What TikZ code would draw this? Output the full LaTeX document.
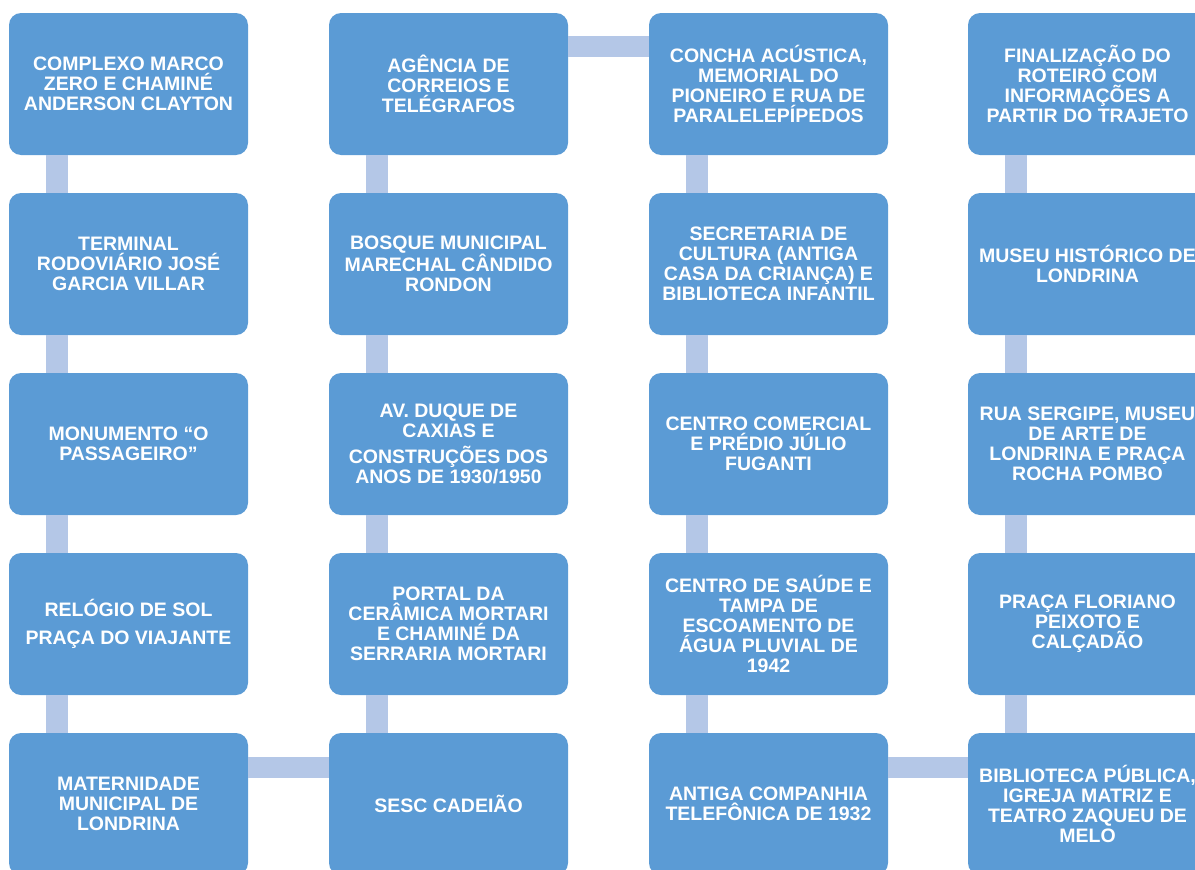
\documentclass[tikz,border=0pt]{standalone}
\usepackage{fontspec}
\setmainfont{Liberation Sans}
\usetikzlibrary{calc}
\definecolor{boxblue}{HTML}{5B9BD5}
\definecolor{barblue}{HTML}{B4C7E7}
\tikzset{
  stop/.style={fill=boxblue, draw=none, rounded corners=12pt, minimum width=239pt, minimum height=142pt,
    inner sep=0pt, align=center, text=white, font=\bfseries\fontsize{19.5}{20}\selectfont},
  bar/.style={fill=barblue, draw=none}
}
\begin{document}
\begin{tikzpicture}[x=1pt,y=-1pt]
\useasboundingbox (0,0) rectangle (1195,870);
\clip (0,0) rectangle (1195,870);
% column 1
\node[stop] (a1) at (128.5,84) {COMPLEXO MARCO\\ZERO E CHAMINÉ\\ANDERSON CLAYTON};
\node[stop] (a2) at (128.5,264) {TERMINAL\\RODOVIÁRIO JOSÉ\\GARCIA VILLAR};
\node[stop] (a3) at (128.5,444) {MONUMENTO “O\\PASSAGEIRO”};
\node[stop] (a4) at (128.5,624) {RELÓGIO DE SOL\\[8pt]PRAÇA DO VIAJANTE};
\node[stop] (a5) at (128.5,804) {MATERNIDADE\\MUNICIPAL DE\\LONDRINA};
% column 2
\node[stop] (b1) at (448.5,84) {AGÊNCIA DE\\CORREIOS E\\TELÉGRAFOS};
\node[stop] (b2) at (448.5,264) {BOSQUE MUNICIPAL\\MARECHAL CÂNDIDO\\RONDON};
\node[stop] (b3) at (448.5,444) {AV. DUQUE DE\\CAXIAS E\\[6pt]CONSTRUÇÕES DOS\\ANOS DE 1930/1950};
\node[stop] (b4) at (448.5,624) {PORTAL DA\\CERÂMICA MORTARI\\E CHAMINÉ DA\\SERRARIA MORTARI};
\node[stop] (b5) at (448.5,804) {SESC CADEIÃO};
% column 3
\node[stop] (c1) at (768.5,84) {CONCHA ACÚSTICA,\\MEMORIAL DO\\PIONEIRO E RUA DE\\PARALELEPÍPEDOS};
\node[stop] (c2) at (768.5,264) {SECRETARIA DE\\CULTURA (ANTIGA\\CASA DA CRIANÇA) E\\BIBLIOTECA INFANTIL};
\node[stop] (c3) at (768.5,444) {CENTRO COMERCIAL\\E PRÉDIO JÚLIO\\FUGANTI};
\node[stop] (c4) at (768.5,624) {CENTRO DE SAÚDE E\\TAMPA DE\\ESCOAMENTO DE\\ÁGUA PLUVIAL DE\\1942};
\node[stop] (c5) at (768.5,804) {ANTIGA COMPANHIA\\TELEFÔNICA DE 1932};
% column 4
\node[stop] (d1) at (1087.5,84) {FINALIZAÇÃO DO\\ROTEIRO COM\\INFORMAÇÕES A\\PARTIR DO TRAJETO};
\node[stop] (d2) at (1087.5,264) {MUSEU HISTÓRICO DE\\LONDRINA};
\node[stop] (d3) at (1087.5,444) {RUA SERGIPE,  MUSEU\\DE ARTE DE\\LONDRINA E PRAÇA\\ROCHA POMBO};
\node[stop] (d4) at (1087.5,624) {PRAÇA FLORIANO\\PEIXOTO E\\CALÇADÃO};
\node[stop] (d5) at (1087.5,804) {BIBLIOTECA PÚBLICA,\\IGREJA MATRIZ E\\TEATRO ZAQUEU DE\\MELO};
% vertical connectors
\foreach \c in {a,b,c,d}{
  \foreach \i/\j in {1/2,2/3,3/4,4/5}{
    \fill[bar] ($(\c\i.south west)+(37,0)$) rectangle ($(\c\j.north west)+(59,0)$);
  }
}
% horizontal connectors
\fill[bar] ($(a5.north east)+(0,24)$) rectangle ($(b5.north west)+(0,45)$);
\fill[bar] ($(b1.north east)+(0,23)$) rectangle ($(c1.north west)+(0,44)$);
\fill[bar] ($(c5.north east)+(0,24)$) rectangle ($(d5.north west)+(0,45)$);
\end{tikzpicture}
\end{document}
